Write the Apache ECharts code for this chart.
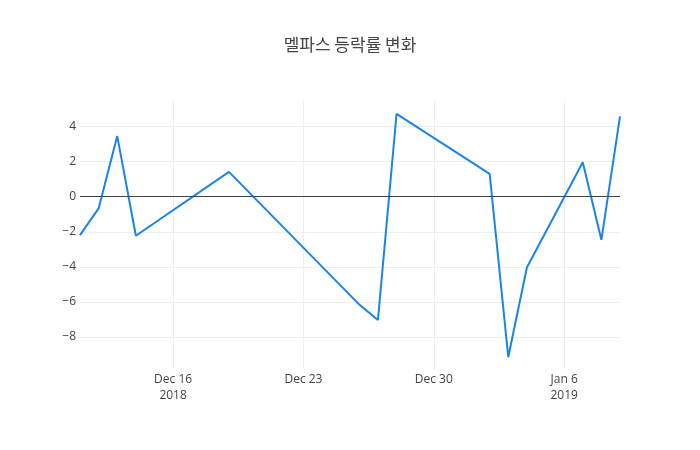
<!DOCTYPE html>
<html>
<head>
<meta charset="utf-8">
<script src="https://cdn.jsdelivr.net/npm/echarts@6/dist/echarts.min.js"></script>
<style>
    html, body { margin: 0; padding: 0; background: #fff; }
    #chart { width: 700px; height: 450px; }
</style>
</head>
<body>
<div id="chart"></div>
<script>
// trading days and daily change (%)
var dates = ['2018-12-11', '2018-12-12', '2018-12-13', '2018-12-14', '2018-12-19',
    '2018-12-26', '2018-12-27', '2018-12-28', '2019-01-02', '2019-01-03',
    '2019-01-04', '2019-01-07', '2019-01-08', '2019-01-09'];
var changes = [-2.19, -0.67, 3.45, -2.23, 1.41,
    -6.15, -7.03, 4.72, 1.30, -9.14,
    -4.04, 1.96, -2.46, 4.57];
var xTicks = ['2018-12-16', '2018-12-23', '2018-12-30', '2019-01-06'];
var yTicks = [-8, -6, -4, -2, 0, 2, 4];

var months = ['Jan', 'Feb', 'Mar', 'Apr', 'May', 'Jun', 'Jul', 'Aug', 'Sep', 'Oct', 'Nov', 'Dec'];

var toTime = function (s) {
    var p = s.split('-');
    return new Date(+p[0], +p[1] - 1, +p[2]).getTime();
};

var getSeriesData = function () {
    var data = [];
    for (var i = 0; i < dates.length; i++) {
        data.push([toTime(dates[i]), changes[i]]);
    }
    return data;
};

var xTickTimes = xTicks.map(toTime);

var myChart = echarts.init(document.getElementById('chart'));
var option = {
    animation: false,
    title: {
        text: '멜파스 등락률 변화',
        left: 'center',
        top: 31,
        textStyle: {
            fontFamily: '"Noto Sans CJK KR", "Open Sans", sans-serif',
            fontSize: 17,
            fontWeight: 'normal',
            color: '#444'
        }
    },
    grid: {
        left: 80,
        right: 80,
        top: 101,
        bottom: 81
    },
    xAxis: {
        type: 'value',
        min: toTime('2018-12-11'),
        max: toTime('2019-01-09'),
        axisLine: { show: false },
        axisTick: { show: false, customValues: xTickTimes },
        splitLine: { show: true, lineStyle: { color: '#eee', width: 1 } },
        axisLabel: {
            customValues: xTickTimes,
            margin: 3,
            color: '#444',
            fontFamily: '"Open Sans", sans-serif',
            fontSize: 12,
            lineHeight: 16,
            formatter: function (v) {
                var d = new Date(v);
                var s = months[d.getMonth()] + ' ' + d.getDate();
                var idx = xTickTimes.indexOf(v);
                if (idx === 0 || (idx > 0 && new Date(xTickTimes[idx - 1]).getFullYear() !== d.getFullYear())) {
                    s += '\n' + d.getFullYear();
                }
                return s;
            }
        }
    },
    yAxis: {
        type: 'value',
        min: -9.82,
        max: 5.45,
        axisLine: { show: false },
        axisTick: { show: false, customValues: yTicks },
        splitLine: { show: true, lineStyle: { color: '#eee', width: 1 } },
        axisLabel: {
            customValues: yTicks,
            margin: 4,
            color: '#444',
            fontFamily: '"Open Sans", sans-serif',
            fontSize: 12,
            formatter: function (v) {
                return String(v).replace('-', '\u2212');
            }
        }
    },
    series: [{
        type: 'line',
        data: getSeriesData(),
        showSymbol: false,
        lineStyle: { color: '#1a84eb', width: 2 },
        markLine: {
            silent: true,
            symbol: 'none',
            label: { show: false },
            lineStyle: { color: '#444', width: 1, type: 'solid' },
            data: [{ yAxis: 0 }]
        }
    }]
};
option && myChart.setOption(option);
</script>
</body>
</html>
